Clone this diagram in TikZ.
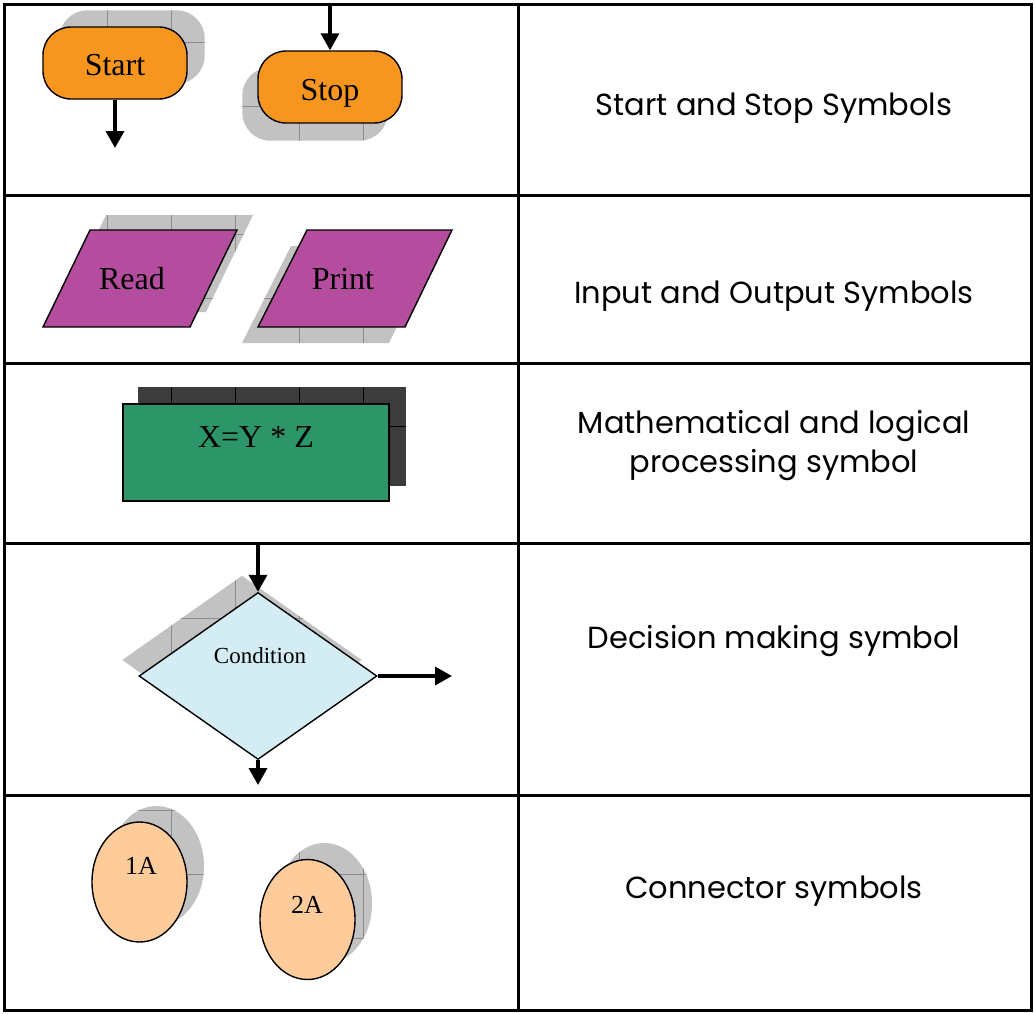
\documentclass[tikz,border=0pt]{standalone}
\usepackage{fontspec}
\setmainfont{Liberation Serif}
\newfontfamily\captionfont{Poppins}
\usetikzlibrary{arrows.meta,shapes.geometric,calc,backgrounds}

\definecolor{termorange}{RGB}{247,150,30}
\definecolor{iomagenta}{RGB}{181,77,158}
\definecolor{procgreen}{RGB}{44,150,104}
\definecolor{decblue}{RGB}{212,236,244}
\definecolor{connpeach}{RGB}{253,204,154}
\definecolor{shadegray}{RGB}{194,194,194}
\definecolor{gridgray}{RGB}{140,140,140}
\definecolor{shadedark}{RGB}{60,60,60}

% faint tiling lines that show through the drop shadows
\newcommand\shadegrid[1]{%
  \foreach \gx in {43.5,107.5,...,1003.5}{\draw[#1,line width=1pt] (\gx,0) -- (\gx,1013);}%
  \foreach \gy in {42,106,...,1002}{\draw[#1,line width=1pt] (0,\gy) -- (1034,\gy);}%
}

\begin{document}
\begin{tikzpicture}[x=1pt,y=-1pt,
  tablerule/.style={line width=3pt},
  sym/.style={draw=black, line width=1.4pt},
  symtext/.style={font=\fontsize{32}{32}\selectfont, inner sep=0pt, anchor=base},
  terminal/.style={sym, fill=termorange, rectangle, rounded corners=28pt,
    minimum width=144pt, minimum height=72pt, inner sep=0pt},
  iobox/.style={sym, fill=iomagenta},
  proc/.style={sym, fill=procgreen, rectangle, minimum width=266pt,
    minimum height=97pt, inner sep=0pt},
  decision/.style={sym, fill=decblue, diamond, minimum width=238pt,
    minimum height=167pt, inner sep=0pt},
  conn/.style={sym, fill=connpeach, ellipse, minimum width=95pt,
    minimum height=120pt, inner sep=0pt},
  flow/.style={line width=3.5pt, -{Triangle[width=18pt,length=17pt]}},
  shadelt/.style={fill=shadegray, path picture={\shadegrid{gridgray}}},
  shadedk/.style={fill=shadedark, path picture={\shadegrid{black}}},
  caption/.style={font=\captionfont\fontsize{30.5}{30.5}\selectfont, inner sep=0pt, anchor=base},
]
\useasboundingbox (0,0) rectangle (1034,1013);

% table frame
\draw[tablerule] (4,4) rectangle (1031,1010);
\draw[tablerule] (518,4) -- (518,1010);
\foreach \ry in {195,363,543,795} \draw[tablerule] (4,\ry) -- (1031,\ry);

% terminals
\node[terminal] (start) at (115,63) {};
\node[terminal] (stop) at (330,87) {};
\node[symtext] (starttext) at (115,75) {Start};
\node[symtext] (stoptext) at (330,100) {Stop};
\coordinate (startout) at (115,148);
\coordinate (stopin) at (330,4);
\draw[flow] (start.south) -- (startout);
\draw[flow] (stopin) -- (stop.north);

% input / output
\path[iobox] (90,230) -- (237,230) -- (190,327) -- (43,327) -- cycle;
\path[iobox] (307,230) -- (452,230) -- (405,327) -- (258,327) -- cycle;
\node[symtext] (read) at (132,289) {Read};
\node[symtext] (print) at (343,289) {Print};

% processing
\node[proc] (calc) at (256,452.5) {};
\node[symtext] (calctext) at (256,447) {X=Y * Z};

% decision
\node[decision] (cond) at (258,676) {};
\node[font=\fontsize{23}{23}\selectfont, inner sep=0pt, anchor=base] (condtext) at (260,663) {Condition};
\coordinate (condin) at (258,543);
\coordinate (condright) at (452,676);
\coordinate (condout) at (258,785);
\draw[flow] (condin) -- (cond.north);
\draw[flow] (cond.east) -- (condright);
\draw[flow] (cond.south) -- (condout);

% connectors
\node[conn] (c1) at (139.5,882) {};
\node[conn] (c2) at (307.5,919.5) {};
\node[font=\fontsize{26}{26}\selectfont, inner sep=0pt, anchor=base] (c1text) at (141,874) {1A};
\node[font=\fontsize{26}{26}\selectfont, inner sep=0pt, anchor=base] (c2text) at (307,913) {2A};

% drop shadows
\begin{scope}[on background layer]
  \path[shadelt, rounded corners=28pt] ($(start.south west)+(17,-16)$) rectangle ($(start.north east)+(17,-16)$);
  \path[shadelt, rounded corners=28pt] ($(stop.south west)+(-15,17)$) rectangle ($(stop.north east)+(-15,17)$);
  \path[shadelt] (106,215) -- (253,215) -- (206,312) -- (59,312) -- cycle;
  \path[shadelt] (291,246) -- (436,246) -- (389,343) -- (242,343) -- cycle;
  \path[shadedk] ($(calc.south west)+(16,-16)$) rectangle ($(calc.north east)+(16,-16)$);
  \path[shadelt] ($(cond.north)+(-16,-16)$) -- ($(cond.east)+(-16,-16)$) -- ($(cond.south)+(-16,-16)$) -- ($(cond.west)+(-16,-16)$) -- cycle;
  \path[shadelt] ($(c1)+(17,-16)$) ellipse [x radius=47.5, y radius=60];
  \path[shadelt] ($(c2)+(17,-16)$) ellipse [x radius=47.5, y radius=60.5];
\end{scope}

% descriptions
\node[caption] (cap1) at (774,115) {Start and Stop Symbols};
\node[caption] (cap2) at (774,303) {Input and Output Symbols};
\node[caption] (cap3a) at (774,433) {Mathematical and logical};
\node[caption] (cap3b) at (774,472) {processing symbol};
\node[caption] (cap4) at (774,648) {Decision making symbol};
\node[caption] (cap5) at (774,898) {Connector symbols};
\end{tikzpicture}
\end{document}
